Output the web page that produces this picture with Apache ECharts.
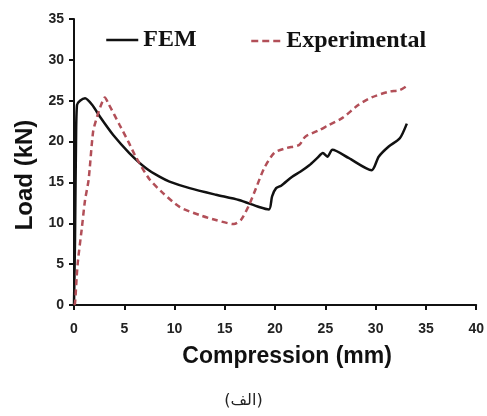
<!DOCTYPE html>
<html>
<head>
<meta charset="utf-8">
<script src="https://cdn.jsdelivr.net/npm/echarts@6/dist/echarts.min.js"></script>
<style>html,body{margin:0;padding:0;background:#fff}#c{width:487px;height:416px}</style>
</head>
<body>
<div id="c"></div>
<script>
var xTicks = [0, 5, 10, 15, 20, 25, 30, 35, 40];
var yTicks = [0, 5, 10, 15, 20, 25, 30, 35];

var femComp = [0, 0.1, 0.2, 0.3, 0.6, 1.1, 1.8, 2.6, 3.9, 5.5, 7.2, 8.5, 9.5, 11.5, 14.1, 16.4, 18.4, 19.4, 19.7, 20.1, 20.6, 21.7, 22.5, 23.4, 24.2, 24.75, 25.2, 25.7, 27.3, 29.6, 30.3, 31.3, 32.4, 33.1];
var femLoad = [0, 8, 20, 24.5, 25.0, 25.3, 24.5, 23.0, 20.8, 18.6, 16.7, 15.7, 15.1, 14.3, 13.5, 12.85, 12.0, 11.7, 13.3, 14.3, 14.6, 15.7, 16.3, 17.1, 18.0, 18.6, 18.15, 19.0, 18.0, 16.5, 18.15, 19.4, 20.4, 22.2];

var expComp = [0, 0.1, 0.27, 0.4, 0.76, 1.1, 1.45, 1.9, 2.25, 2.7, 3.07, 3.4, 4.55, 5.4, 6.2, 7.5, 8.85, 10.5, 12.5, 14.1, 15.9, 16.6, 17.4, 18.1, 18.9, 19.9, 21.1, 22.4, 23.0, 24.4, 25.3, 26.7, 28.3, 29.6, 31.3, 32.4, 33.1];
var expLoad = [0, 0.2, 3.5, 5.5, 9.2, 12.85, 15.3, 21.2, 22.85, 24.5, 25.4, 24.7, 22.0, 20.0, 18.0, 15.4, 13.7, 12.0, 11.0, 10.4, 9.9, 10.4, 12.2, 14.3, 16.7, 18.6, 19.2, 19.6, 20.6, 21.4, 22.0, 22.9, 24.5, 25.4, 26.1, 26.3, 26.8];

function zip(a, b) { return a.map(function (v, i) { return [v, b[i]]; }); }

var chart = echarts.init(document.getElementById('c'), null, {renderer: 'canvas'});
var labelFont = {fontFamily: 'Liberation Sans, Arial, sans-serif', fontWeight: 'bold', fontSize: 14, color: '#222'};
var legendText = {fontFamily: 'Liberation Serif, Times New Roman, serif', fontWeight: 'bold', fontSize: 24, color: '#111'};
chart.setOption({
  animation: false,
  backgroundColor: '#fff',
  title: {
    text: '(الف)',
    left: 'center',
    top: 388,
    textStyle: {fontFamily: 'DejaVu Sans, Noto Sans, sans-serif', fontWeight: 'normal', fontSize: 16, color: '#222'}
  },
  legend: [
    {data: ['FEM'], left: 100, top: 23, itemWidth: 32, itemHeight: 14, itemGap: 8,
     itemStyle: {opacity: 0}, lineStyle: {width: 2.5}, textStyle: legendText},
    {data: ['Experimental'], left: 245, top: 24, itemWidth: 30, itemHeight: 14,
     itemStyle: {opacity: 0}, lineStyle: {width: 2.5, type: [7, 4]}, textStyle: legendText}
  ],
  grid: {left: 74, right: 9, top: 19, bottom: 111, containLabel: false},
  xAxis: {
    type: 'value', min: 0, max: 40, interval: 5,
    name: 'Compression (mm)', nameLocation: 'middle', nameGap: 40,
    nameTextStyle: {fontFamily: 'Liberation Sans, Arial, sans-serif', fontWeight: 'bold', fontSize: 23, color: '#111', padding: [0, 0, 0, 24]},
    axisLine: {show: true, onZero: false, lineStyle: {color: '#111', width: 2}},
    axisTick: {show: true, length: 5, lineStyle: {color: '#111', width: 2}},
    axisLabel: Object.assign({margin: 17, formatter: function (v) { return xTicks.indexOf(v) >= 0 ? String(v) : ''; }}, labelFont),
    splitLine: {show: false}
  },
  yAxis: {
    type: 'value', min: 0, max: 35, interval: 5,
    name: 'Load (kN)', nameLocation: 'middle', nameGap: 37,
    nameTextStyle: {fontFamily: 'Liberation Sans, Arial, sans-serif', fontWeight: 'bold', fontSize: 24, color: '#111', padding: [0, 26, 0, 0]},
    axisLine: {show: true, onZero: false, lineStyle: {color: '#111', width: 2}},
    axisTick: {show: true, length: 5, lineStyle: {color: '#111', width: 2}},
    axisLabel: Object.assign({margin: 10, formatter: function (v) { return yTicks.indexOf(v) >= 0 ? String(v) : ''; }}, labelFont),
    splitLine: {show: false}
  },
  series: [
    {
      name: 'FEM', type: 'line', data: zip(femComp, femLoad), symbol: 'none', smooth: 0.25,
      lineStyle: {color: '#111', width: 2.5}, itemStyle: {color: '#111'}
    },
    {
      name: 'Experimental', type: 'line', data: zip(expComp, expLoad), symbol: 'none', smooth: 0.25,
      lineStyle: {color: '#b24f58', width: 2.5, type: [6, 4]}, itemStyle: {color: '#b24f58'}
    }
  ]
});
</script>
</body>
</html>
